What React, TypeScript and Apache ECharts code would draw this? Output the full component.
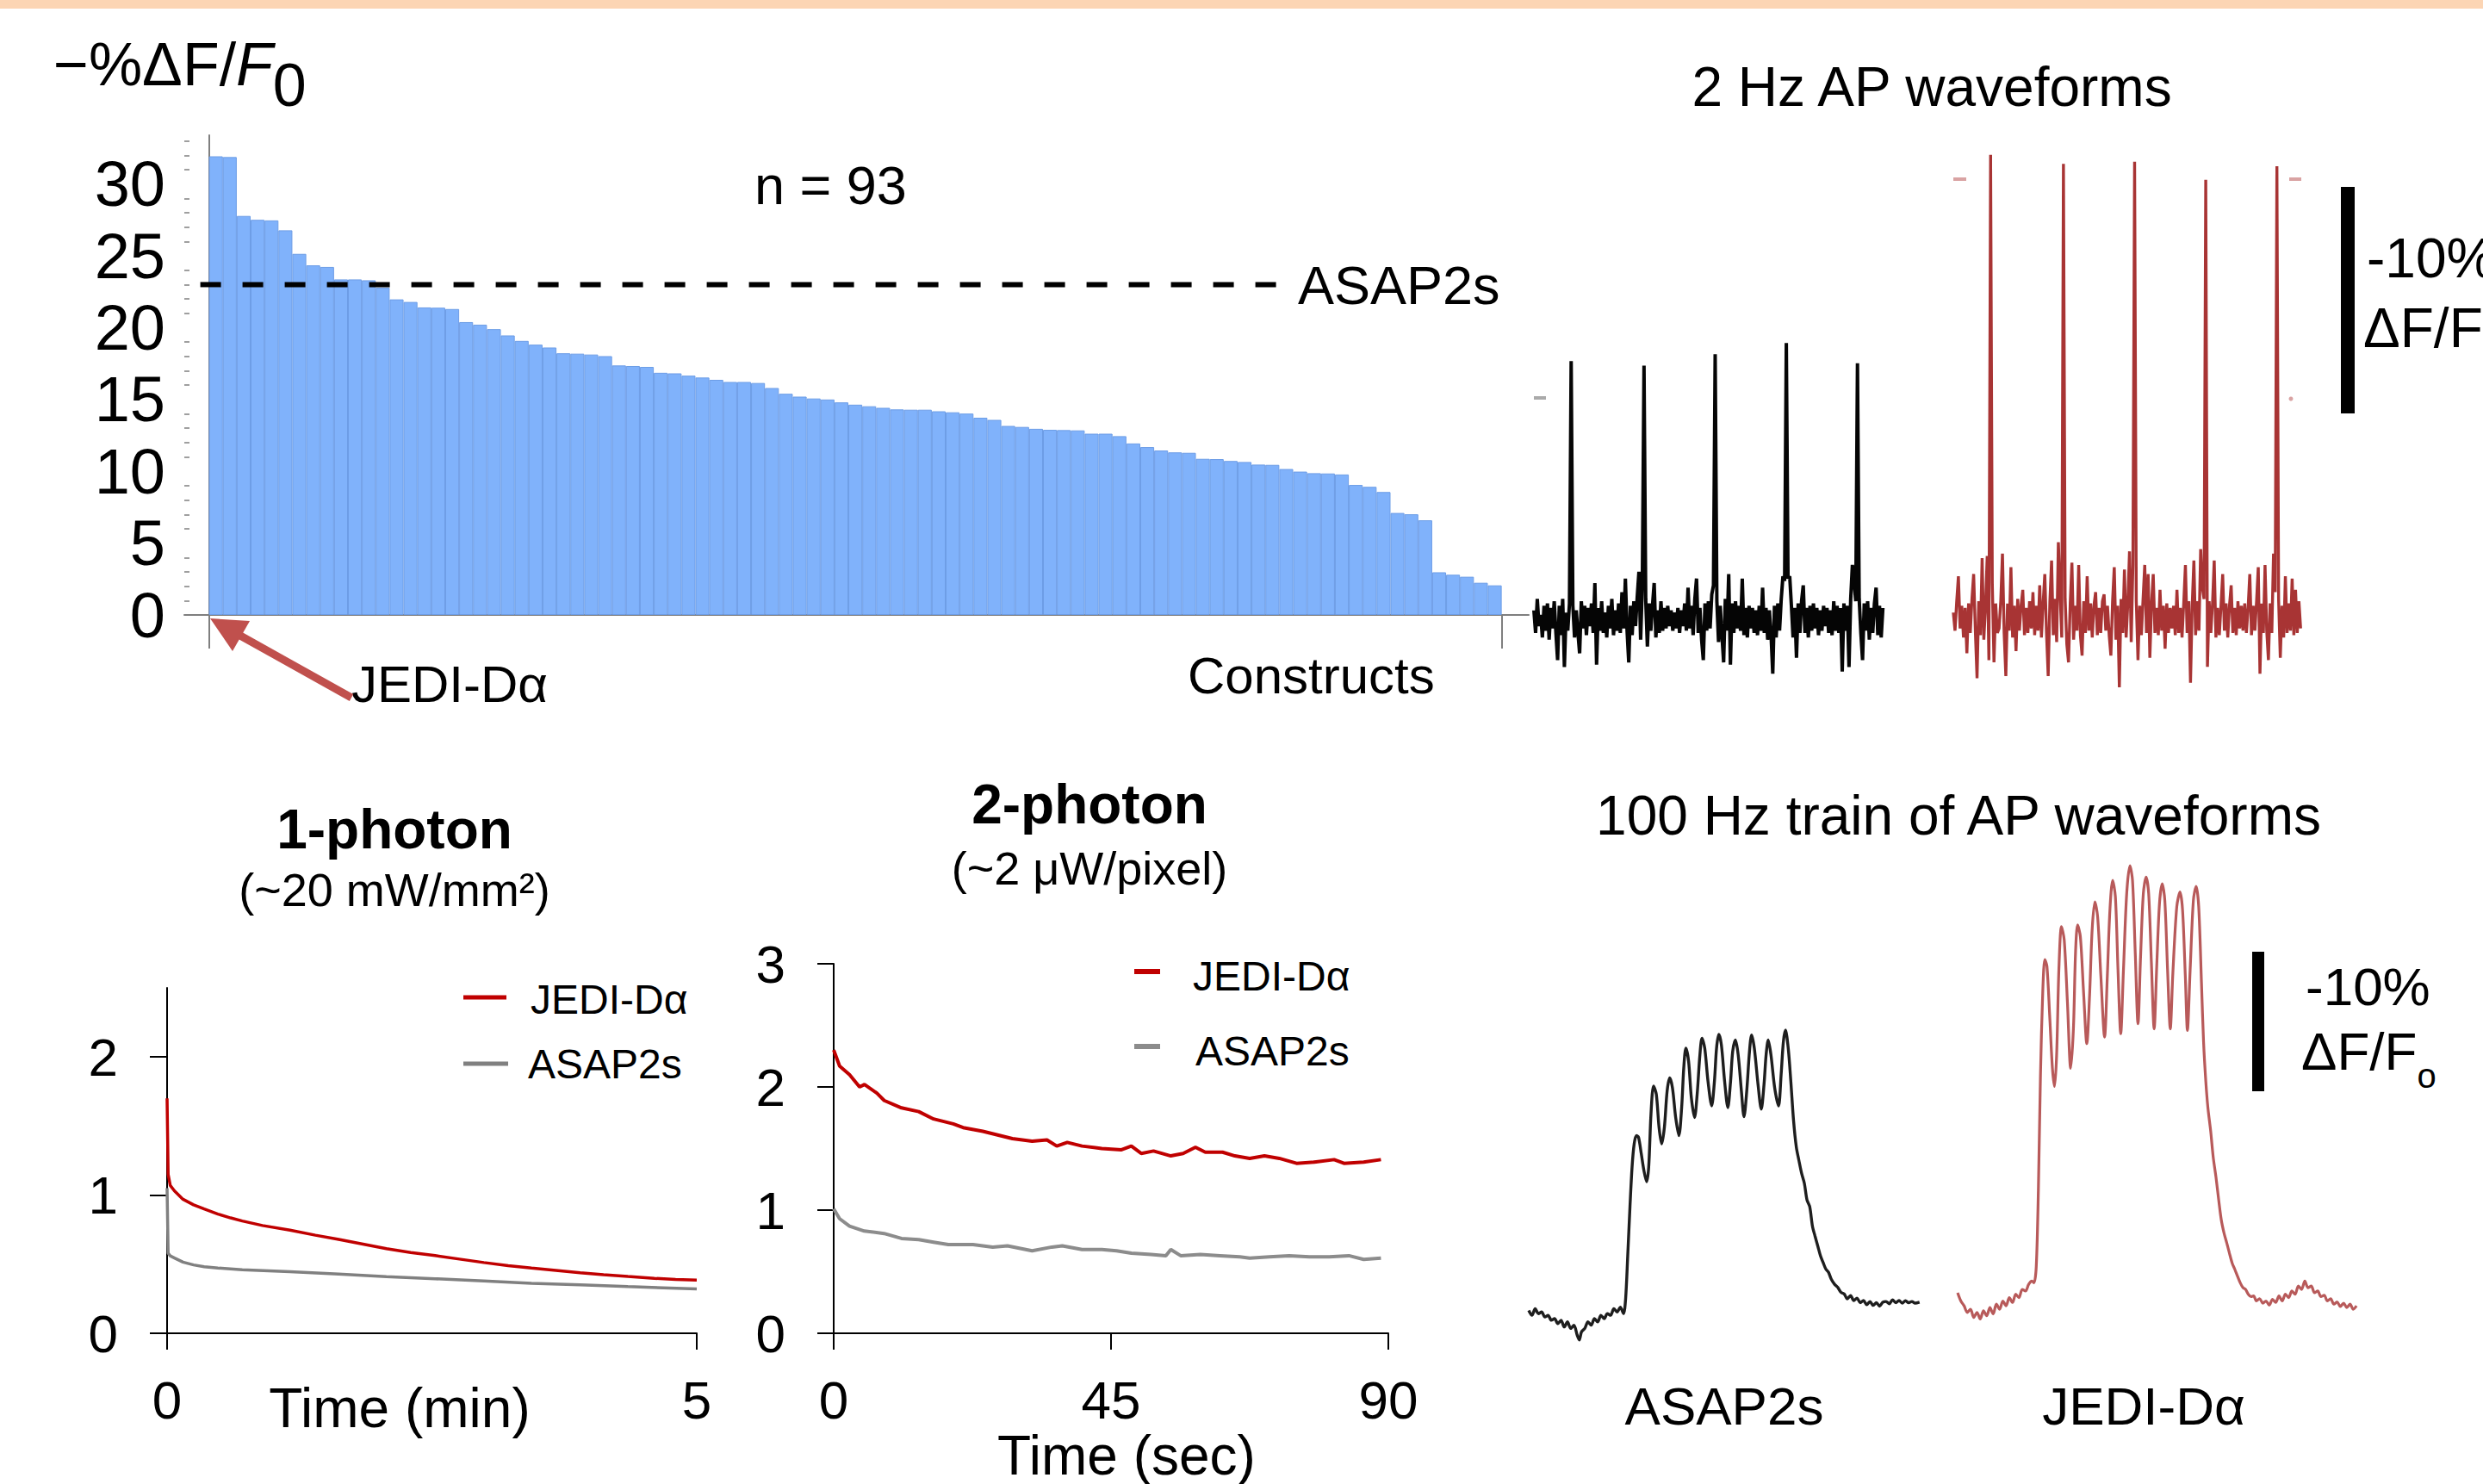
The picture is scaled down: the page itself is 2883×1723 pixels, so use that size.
import React, { useEffect, useRef } from 'react';
import * as echarts from 'echarts';

const W = 2883;
const H = 1723;
const FONT = '"Liberation Sans", Arial, Helvetica, sans-serif';

// ---------- Panel A: screen of constructs (−%ΔF/F0) ----------
const constructValues = [
  31.93, 31.88, 27.78, 27.51, 27.47, 26.78, 25.14, 24.34, 24.23, 23.36, 23.36, 23.30, 22.79, 21.97, 21.79, 21.41,
  21.39, 21.30, 20.39, 20.21, 19.90, 19.46, 19.08, 18.82, 18.62, 18.22, 18.19, 18.13, 18.02, 17.37, 17.33, 17.27,
  16.86, 16.82, 16.66, 16.53, 16.37, 16.22, 16.22, 16.15, 15.80, 15.40, 15.20, 15.07, 15.00, 14.80, 14.64, 14.53,
  14.42, 14.31, 14.29, 14.29, 14.18, 14.11, 14.02, 13.73, 13.58, 13.16, 13.09, 12.96, 12.89, 12.87, 12.85,
  12.62, 12.62, 12.45, 11.94, 11.69, 11.45, 11.32, 11.29, 10.87, 10.85, 10.72, 10.65, 10.47, 10.45, 10.16, 9.98,
  9.87, 9.85, 9.78, 9.05, 8.92, 8.56, 7.10, 7.01, 6.59, 2.97, 2.80, 2.66, 2.24, 2.06,
];
const asap2sLevel = 23.0;
const asap2sLineExtent = [-0.62, 77.2];
const barYTicks = [0, 5, 10, 15, 20, 25, 30];
const barYMinorTicks = [1, 2, 3, 4, 6, 7, 8, 9, 11, 12, 13, 14, 16, 17, 18, 19, 21, 22, 23, 24, 26, 27, 28, 29, 31, 32, 33];
const barXTicks = [0, 93];

// ---------- 2 Hz AP waveforms (−%ΔF/F, sampled every 12 ms) ----------
const DT_2HZ = 12;
const asap2sAt2Hz = [
  0.4, -0.6, 0.9, -0.3, 0.2, -0.8, 0.6, -0.5, 0.7, -0.9,
  0.5, -0.4, 0.8, -0.6, -1.8, 0.6, -0.7, 0.9, -2.1, 0.3,
  -0.5, 0.7, 11.4, 0.6, -0.8, 0.4, -0.6, -1.5, 0.8, -0.4,
  0.6, -0.7, 0.5, -0.3, 0.7, -0.6, 1.6, -2.0, 0.5, -0.5,
  0.8, -0.6, 0.3, -0.8, 0.6, -0.4, 0.9, -0.7, 0.4, -0.5,
  0.7, -0.6, 1.2, -0.4, 1.8, -0.5, -1.9, 0.6, -0.7, 0.8,
  -0.3, 1.0, 2.1, -0.9, 1.5, 11.2, 0.9, -1.2, 0.7, -0.5,
  0.6, 1.6, -0.8, 0.4, -0.6, 0.8, -0.5, 0.5, -0.4, 0.6,
  -0.3, 0.4, -0.5, 0.3, -0.4, 0.5, -0.6, 0.4, -0.3, 0.7,
  -0.5, 1.4, -0.4, 0.6, -0.7, 0.9, 1.8, -0.6, 0.5, -0.9,
  -1.8, 0.7, -0.5, 0.8, -0.4, 1.1, 1.5, 11.7, 0.8, -1.0,
  0.6, -0.7, -1.9, 0.9, -0.5, 2.0, -2.0, 0.7, -0.6, 0.8,
  -0.4, 0.6, -0.5, 1.8, -0.7, 0.5, -0.8, 0.6, -0.4, 0.5,
  -0.6, 0.4, -0.7, 0.6, -0.5, 1.4, -0.6, 0.5, -0.9, 0.4,
  -0.7, -2.4, 0.6, -0.8, 0.7, -0.5, 0.9, 1.9, 1.7, 12.2,
  1.8, 1.9, 0.6, -0.8, 0.5, -1.7, 0.7, -0.6, 0.8, 1.5,
  -0.6, 0.5, -0.8, 0.6, -0.5, 0.7, -0.4, 0.5, -0.7, 0.4,
  -0.5, 0.6, -0.3, 0.5, -0.6, 0.4, -0.7, 0.8, -0.5, 0.6,
  -0.6, 0.5, -2.3, 0.7, -0.5, 0.6, -2.1, 0.9, 2.4, 1.6,
  0.8, 11.3, 0.9, -0.6, -1.8, 0.7, -0.5, 0.8, -0.9, 0.5,
  -0.6, 0.7, 1.4, -0.7, 0.6, -0.8, 0.5,
];
const jediAt2Hz = [
  0.3, -0.5, 0.8, 1.9, -0.4, 0.6, -0.8, 0.5, -1.5, 0.7,
  -0.6, 0.9, 2.0, -0.5, -2.6, 0.8, -0.7, 2.7, -0.9, 0.6,
  2.8, -1.8, 20.5, 1.6, -1.9, 0.7, -0.6, -0.4, 0.8, 2.9,
  -0.6, -2.5, 0.7, -0.5, 2.3, -0.8, 0.6, -1.4, 0.9, -0.5,
  0.6, 1.3, -0.7, 0.5, -0.6, 0.8, -0.4, 1.2, -0.7, 0.6,
  -0.5, 1.5, -0.8, 0.7, 2.0, -0.6, -2.5, 0.8, 2.6, -0.7,
  0.9, -1.0, 3.4, 1.2, -0.8, 20.1, 0.9, -1.1, -1.9, 0.7,
  2.5, -0.9, 0.6, -0.5, 2.4, -0.7, -1.6, 0.8, -0.6, 1.9,
  -0.5, 0.7, -0.8, 0.6, 1.2, -0.7, 0.5, -0.6, 0.8, 1.1,
  -0.5, 0.6, -0.7, -1.6, 0.8, 2.3, -0.9, 0.6, -3.0, 0.9,
  -0.6, 2.2, -0.8, 0.7, 3.0, -1.0, 2.4, 20.2, 0.8, -1.8,
  0.6, -0.7, 0.9, 2.4, -0.6, 2.0, -1.7, 0.7, 2.0, -0.6,
  0.5, -0.7, 1.3, -0.5, 0.6, -1.3, 0.7, -0.6, 0.5, -0.4,
  0.6, -0.7, 1.3, -0.6, 0.5, -0.8, 0.7, 2.4, -0.6, 0.8,
  -2.8, 0.6, 2.6, -0.7, 0.8, -0.5, 3.1, 1.4, 0.9, 19.4,
  -2.1, 0.8, -0.6, 0.7, 2.6, -0.8, 0.5, -0.7, 0.6, 2.0,
  -0.5, 0.7, -0.8, 0.6, 1.5, -0.6, 0.5, -0.7, 0.8, -0.4,
  0.6, -0.5, 0.7, -0.6, 0.5, 2.0, -0.7, 0.6, -0.5, 0.8,
  2.3, -2.4, 0.7, -0.6, 2.4, -0.5, -1.8, 0.7, -0.6, 2.9,
  1.2, 20.0, 0.9, -1.7, 0.6, -0.8, 1.9, -0.6, 0.7, -0.5,
  1.8, -0.7, 1.3, -0.6, 0.8, -0.4,
];

// ---------- Photobleaching: 1-photon (min) and 2-photon (sec) ----------
const onePhotonJedi: [number, number][] = [
  [0, 1.7], [0.01, 1.15], [0.03, 1.07], [0.07, 1.03], [0.15, 0.97], [0.25, 0.93], [0.35, 0.9], [0.48, 0.863],
  [0.6, 0.835], [0.71, 0.813], [0.9, 0.78], [1.16, 0.746], [1.4, 0.71], [1.62, 0.679], [1.85, 0.645], [2.07, 0.612],
  [2.3, 0.585], [2.53, 0.562], [2.76, 0.537], [2.99, 0.512], [3.22, 0.49], [3.44, 0.472], [3.67, 0.455], [3.9, 0.438],
  [4.12, 0.424], [4.35, 0.411], [4.6, 0.398], [4.8, 0.39], [5.0, 0.385],
];
const onePhotonAsap: [number, number][] = [
  [0, 1.05], [0.01, 0.58], [0.03, 0.56], [0.07, 0.545], [0.15, 0.515], [0.25, 0.495], [0.35, 0.482], [0.48, 0.472],
  [0.71, 0.46], [1.16, 0.445], [1.62, 0.428], [2.07, 0.41], [2.53, 0.395], [2.99, 0.378], [3.44, 0.361], [3.9, 0.351],
  [4.35, 0.338], [5.0, 0.321],
];
const twoPhotonJedi: [number, number][] = [
  [0, 2.3], [0.96, 2.17], [2.57, 2.1], [4.2, 2.0], [5.0, 2.02], [7.0, 1.95], [8.2, 1.89], [11.0, 1.83], [13.8, 1.8],
  [16.2, 1.74], [19.4, 1.7], [21.0, 1.67], [24.2, 1.64], [26.6, 1.61], [29.0, 1.58], [32.2, 1.56], [34.6, 1.57],
  [36.2, 1.52], [37.9, 1.55], [40.3, 1.52], [43.5, 1.5], [46.7, 1.49], [48.3, 1.52], [49.9, 1.46], [51.9, 1.48],
  [54.7, 1.44], [56.7, 1.46], [58.7, 1.51], [60.3, 1.47], [63.1, 1.47], [65.1, 1.44], [67.5, 1.42], [69.9, 1.44],
  [72.3, 1.42], [75.1, 1.38], [78.0, 1.39], [81.2, 1.41], [82.8, 1.38], [86.0, 1.39], [88.8, 1.41],
];
const twoPhotonAsap: [number, number][] = [
  [0, 1.01], [0.96, 0.93], [2.57, 0.87], [4.97, 0.83], [8.18, 0.81], [11.0, 0.77], [13.8, 0.76], [16.2, 0.74],
  [18.6, 0.72], [22.6, 0.72], [25.8, 0.7], [28.2, 0.71], [32.2, 0.67], [35.4, 0.7], [37.1, 0.71], [40.3, 0.68],
  [43.5, 0.68], [45.9, 0.67], [48.3, 0.65], [51.5, 0.64], [53.9, 0.63], [54.7, 0.68], [56.3, 0.63], [59.5, 0.64],
  [62.7, 0.63], [65.9, 0.62], [67.5, 0.61], [70.7, 0.62], [73.9, 0.63], [77.2, 0.62], [80.4, 0.62], [83.6, 0.63],
  [86.0, 0.6], [88.8, 0.61],
];
const onePhotonYTicks = [0, 1, 2];
const onePhotonXTicks = [0, 5];
const twoPhotonYTicks = [0, 1, 2, 3];
const twoPhotonXTicks = [0, 45, 90];

// ---------- 100 Hz train of AP waveforms ([ms, −%ΔF/F]) ----------
const asap2sAt100Hz: [number, number][] = [
  [0, 0.35], [2, 0], [4, 0.47], [6, 0.12], [8, 0.24], [10, -0.12], [12, 0], [14, -0.35], [16, -0.24], [18, -0.59],
  [20, -0.35], [22, -0.83], [24, -0.47], [26, -0.94], [28, -0.71], [30, -1.42], [31.3, -1.77], [32.7, -1.18],
  [34.7, -0.94], [36.7, -0.47], [38.7, -0.71], [40.7, -0.24], [42.7, -0.47], [44.7, 0], [46.7, -0.24], [48.7, 0.12],
  [50.7, 0], [52.7, 0.47], [54.7, 0.24], [56.7, 0.59], [58.7, 0.12], [60, 1.18], [61.3, 4.25], [62.7, 7.79],
  [64, 10.63], [65.3, 12.28], [66.7, 12.87], [68, 12.75], [69.7, 11.57], [71.3, 10.39], [73, 9.57], [74.3, 10.63],
  [75.7, 14.41], [77.3, 16.42], [79, 15.83], [80.7, 13.46], [82.3, 12.28], [84, 13.46], [85.7, 16.06], [87.3, 17.01],
  [89, 16.3], [91, 14.17], [93, 12.87], [94.7, 14.88], [96, 17.72], [97.3, 19.13], [99, 18.19], [100.7, 15.59],
  [102.7, 14.17], [104.3, 15.83], [106, 18.66], [107.3, 19.84], [109, 19.13], [111, 16.77], [113.3, 15.0],
  [115, 16.77], [116.3, 19.13], [117.7, 20.12], [119.3, 19.37], [121.3, 16.77], [123.3, 14.88], [125, 16.77],
  [126.3, 18.9], [128, 19.72], [129.7, 18.66], [131.7, 16.06], [133.3, 14.22], [135, 16.06], [136.7, 18.9],
  [138, 20.08], [139.7, 19.13], [142, 16.53], [144, 14.76], [145.7, 16.53], [147, 18.66], [148.3, 19.72], [150, 18.66],
  [152.3, 16.3], [154.7, 15.0], [156.3, 17.24], [157.7, 19.6], [159, 20.43], [160.7, 19.13], [162.3, 16.77],
  [164, 13.94], [165.7, 12.05], [167.3, 11.1], [169, 10.16], [170.7, 9.45], [172.3, 8.27], [174, 7.79], [175.7, 6.38],
  [177.3, 5.67], [179, 4.96], [180.7, 4.25], [182.3, 3.78], [184, 3.31], [185.7, 3.07], [187.3, 2.6], [189.3, 2.24],
  [191.3, 2.01], [193.3, 1.65], [195.3, 1.54], [197.3, 1.18], [199.3, 1.42], [201.3, 1.06], [203.3, 1.23],
  [205.3, 0.9], [207.3, 1.06], [209.3, 0.76], [211.3, 0.99], [213.3, 0.71], [215.3, 0.9], [217.3, 0.66],
  [219.3, 0.94], [221.3, 0.99], [223.3, 0.83], [225.3, 1.11], [227.3, 0.9], [229.3, 1.06], [231.3, 0.87],
  [233.3, 1.04], [235.3, 0.9], [237.3, 0.99], [239.3, 0.87], [242, 0.94],
];
const jediAt100Hz: [number, number][] = [
  [0, 0.94], [2, 0.35], [4, 0], [6, -0.47], [8, -0.24], [10, -0.83], [12, -0.47], [14, -0.94], [16, -0.35],
  [18, -0.71], [20, -0.12], [22, -0.59], [24, 0.12], [26, -0.24], [28, 0.35], [30, 0], [32, 0.59], [34, 0.24],
  [36, 0.83], [38, 0.59], [40, 1.18], [42, 1.06], [44, 1.54], [46, 1.77], [47.3, 1.65], [48.7, 2.83], [50, 8.27],
  [51.3, 16.53], [52.7, 22.44], [54, 24.8], [55.3, 24.33], [57, 20.79], [58.7, 17.01], [60, 15.71], [61.3, 17.95],
  [62.7, 24.09], [64.3, 27.16], [66, 26.22], [68, 21.73], [70, 17.01], [71.7, 19.84], [73, 25.27], [74.3, 27.28],
  [76, 26.45], [78, 22.44], [80, 18.78], [81.7, 22.2], [83.3, 26.93], [85, 28.93], [86.7, 27.87], [88.7, 23.62],
  [91, 19.25], [92.7, 23.62], [94.3, 28.34], [96, 30.47], [97.7, 29.29], [99.3, 24.09], [101, 19.49], [102.7, 24.09],
  [104.7, 29.53], [106.7, 31.53], [108.3, 30.47], [110, 25.27], [111.7, 20.2], [113.3, 25.04], [115, 29.53],
  [116.7, 30.71], [118.3, 29.53], [120, 24.56], [121.7, 19.84], [123.3, 24.33], [125, 28.82], [126.7, 30.23],
  [128.3, 29.05], [130, 24.09], [131.7, 19.84], [133.3, 23.86], [135.7, 28.58], [137.7, 29.64], [139.3, 28.34],
  [141, 23.62], [142.3, 19.72], [144, 24.09], [146, 29.05], [147.7, 30.05], [149.3, 28.58], [151, 23.15],
  [152.3, 18.9], [153.7, 16.06], [155, 14.17], [156.7, 12.52], [158.3, 10.63], [160, 9.21], [161.7, 7.56],
  [163.3, 6.14], [165, 5.2], [166.7, 4.49], [168.3, 3.78], [170, 3.07], [171.7, 2.6], [173.3, 2.13], [175, 1.65],
  [176.7, 1.3], [178.3, 1.18], [180, 0.83], [181.7, 0.66], [183.3, 0.71], [185, 0.35], [187, 0.52], [189, 0.19],
  [191, 0.35], [193, 0.05], [195, 0.47], [197, 0.24], [199, 0.71], [201, 0.35], [203, 0.83], [205, 0.59],
  [207, 1.06], [209, 0.83], [211, 1.42], [213, 1.18], [215, 1.77], [217, 1.3], [219, 1.42], [221, 0.94],
  [223, 1.06], [225, 0.66], [227, 0.76], [229, 0.35], [231, 0.52], [233, 0.12], [235, 0.28], [237, -0.05],
  [239, 0.19], [241, -0.12], [243, 0.12], [245, -0.24], [247, 0],
];

// ---------- colours ----------
const RED = '#c00000';
const GRAY = '#808080';
const BAR_BLUE = '#80b2fb';
const ARROW_RED = '#c0504d';
const TRACE_RED = '#a83434';
const TRACE_RED_100 = '#b85a5a';

// ---------- layout ----------
const BAR_X0 = 242.6;
const BAR_W = 16.14;
const BAR_GRID = { left: 214, top: 157, width: 1561, height: 557 };

function txt(text: string, x: number, y: number, size: number, align = 'left', bold = false): any {
  return {
    type: 'text',
    x,
    y,
    silent: true,
    style: {
      text,
      fill: '#000',
      fontSize: size,
      fontFamily: FONT,
      fontWeight: bold ? 'bold' : 'normal',
      align,
      verticalAlign: 'middle',
      textAlign: align,
      textVerticalAlign: 'middle',
    },
  };
}

function subText(main: string, sub: string, x: number, yTop: number, size: number, subSize: number, subDrop: number): any {
  return {
    type: 'text', x, y: yTop, silent: true,
    style: {
      text: `{a|${main}}{s|${sub}}`, fill: '#000', fontFamily: FONT, fontSize: size,
      align: 'left', verticalAlign: 'top', textAlign: 'left', textVerticalAlign: 'top',
      rich: {
        a: { fontSize: size, fontFamily: FONT, lineHeight: size, verticalAlign: 'top', fill: '#000' },
        s: { fontSize: subSize, fontFamily: FONT, lineHeight: subSize, padding: [subDrop, 0, 0, 0], verticalAlign: 'top', fill: '#000' },
      },
    },
  };
}

function hLine(x1: number, x2: number, y: number, color: string, w: number): any {
  return { type: 'line', silent: true, shape: { x1, y1: y, x2, y2: y }, style: { stroke: color, lineWidth: w } };
}

function buildOption(): any {
  const axisFont = { fontFamily: FONT, color: '#000' };
  const lineBase = { type: 'line', showSymbol: false, symbol: 'none', silent: true, animation: false };
  const hiddenX = (gridIndex: number, max: number) => ({ type: 'value', gridIndex, min: 0, max, show: false });
  const hiddenY = (gridIndex: number, min: number, max: number) => ({ type: 'value', gridIndex, min, max, show: false });
  const blackAxis = { lineStyle: { color: '#000', width: 2 } };

  return {
    animation: false,
    backgroundColor: '#ffffff',
    grid: [
      { ...BAR_GRID },
      { left: 1781, top: 166.7, width: (asap2sAt2Hz.length - 1) * DT_2HZ * 0.16392, height: 631.3 },
      { left: 2268, top: 166.7, width: (jediAt2Hz.length - 1) * DT_2HZ * 0.16392, height: 631.3 },
      { left: 194, top: 1147, width: 615, height: 401 },
      { left: 968, top: 1119, width: 644, height: 429 },
      { left: 1775, top: 976, width: 453.75, height: 616 },
      { left: 2273, top: 965, width: 463.1, height: 616 },
    ],
    xAxis: [
      {
        type: 'value', gridIndex: 0,
        min: -(BAR_X0 - BAR_GRID.left) / BAR_W,
        max: (BAR_GRID.left + BAR_GRID.width - BAR_X0) / BAR_W,
        axisLine: { show: true, lineStyle: { color: '#7f7f7f', width: 2 } },
        axisTick: { show: true, customValues: barXTicks, length: 39, lineStyle: { color: '#7f7f7f', width: 2 } },
        axisLabel: { show: false },
        splitLine: { show: false },
      },
      hiddenX(1, (asap2sAt2Hz.length - 1) * DT_2HZ),
      hiddenX(2, (jediAt2Hz.length - 1) * DT_2HZ),
      {
        type: 'value', gridIndex: 3, min: 0, max: 5,
        axisLine: { show: true, onZero: false, ...blackAxis },
        axisTick: { show: true, customValues: onePhotonXTicks, length: 19, ...blackAxis },
        axisLabel: { customValues: onePhotonXTicks, fontSize: 62, margin: 46, ...axisFont },
        splitLine: { show: false },
      },
      {
        type: 'value', gridIndex: 4, min: 0, max: 90,
        axisLine: { show: true, onZero: false, ...blackAxis },
        axisTick: { show: true, customValues: twoPhotonXTicks, length: 19, ...blackAxis },
        axisLabel: { customValues: twoPhotonXTicks, fontSize: 62, margin: 46, ...axisFont },
        splitLine: { show: false },
      },
      hiddenX(5, 242),
      hiddenX(6, 247),
    ],
    yAxis: [
      {
        type: 'value', gridIndex: 0, min: 0, max: 33.4, position: 'left',
        axisLine: { show: true, lineStyle: { color: '#7f7f7f', width: 2 } },
        axisTick: { show: true, inside: true, customValues: barYTicks, length: 10, lineStyle: { color: '#7f7f7f', width: 2 } },
        axisLabel: { customValues: barYTicks, fontSize: 74, margin: 22, ...axisFont },
        splitLine: { show: false },
      },
      {
        type: 'value', gridIndex: 0, min: 0, max: 33.4, position: 'left', offset: 0,
        axisLine: { show: false },
        axisTick: { show: true, inside: true, customValues: barYMinorTicks, length: 6, lineStyle: { color: '#7f7f7f', width: 1.5 } },
        axisLabel: { show: false },
        splitLine: { show: false },
      },
      hiddenY(1, -3, 21),
      hiddenY(2, -3, 21),
      {
        type: 'value', gridIndex: 3, min: 0, max: 2.5,
        axisLine: { show: true, ...blackAxis },
        axisTick: { show: true, customValues: onePhotonYTicks, length: 20, ...blackAxis },
        axisLabel: { customValues: onePhotonYTicks, fontSize: 62, margin: 57, ...axisFont },
        splitLine: { show: false },
      },
      {
        type: 'value', gridIndex: 4, min: 0, max: 3,
        axisLine: { show: true, ...blackAxis },
        axisTick: { show: true, customValues: twoPhotonYTicks, length: 19, ...blackAxis },
        axisLabel: { customValues: twoPhotonYTicks, fontSize: 62, margin: 56, ...axisFont },
        splitLine: { show: false },
      },
      hiddenY(5, -4, 34),
      hiddenY(6, -4, 34),
    ],
    series: [
      {
        type: 'bar', xAxisIndex: 0, yAxisIndex: 0, silent: true,
        data: constructValues.map((v, i) => [i + 0.5, v]),
        barWidth: BAR_W,
        itemStyle: { color: BAR_BLUE, borderColor: '#6d9de6', borderWidth: 1 },
      },
      {
        ...lineBase, xAxisIndex: 0, yAxisIndex: 0, z: 5,
        data: asap2sLineExtent.map((x) => [x, asap2sLevel]),
        lineStyle: { color: '#000', width: 6, type: [24, 25], cap: 'butt' },
      },
      {
        ...lineBase, xAxisIndex: 1, yAxisIndex: 2,
        data: asap2sAt2Hz.map((v, i) => [i * DT_2HZ, v]),
        lineStyle: { color: '#050505', width: 4 },
      },
      {
        ...lineBase, xAxisIndex: 2, yAxisIndex: 3,
        data: jediAt2Hz.map((v, i) => [i * DT_2HZ, v]),
        lineStyle: { color: TRACE_RED, width: 3.4 },
      },
      { ...lineBase, xAxisIndex: 3, yAxisIndex: 4, data: onePhotonAsap, lineStyle: { color: GRAY, width: 3.5 } },
      { ...lineBase, xAxisIndex: 3, yAxisIndex: 4, data: onePhotonJedi, lineStyle: { color: RED, width: 3.5 } },
      { ...lineBase, xAxisIndex: 4, yAxisIndex: 5, data: twoPhotonAsap, lineStyle: { color: '#8c8c8c', width: 4 } },
      { ...lineBase, xAxisIndex: 4, yAxisIndex: 5, data: twoPhotonJedi, lineStyle: { color: RED, width: 4 } },
      { ...lineBase, xAxisIndex: 5, yAxisIndex: 6, data: asap2sAt100Hz, smooth: 0.3, lineStyle: { color: '#1e1e1e', width: 3.4 } },
      { ...lineBase, xAxisIndex: 6, yAxisIndex: 7, data: jediAt100Hz, smooth: 0.3, lineStyle: { color: TRACE_RED_100, width: 3.2 } },
    ],
    graphic: {
      elements: [
        { type: 'rect', silent: true, shape: { x: 0, y: 0, width: W, height: 10 }, style: { fill: '#fcd5b4' } },
        // Panel A texts
        {
          type: 'text', x: 62, y: 40, silent: true,
          style: {
            text: '{a|−%ΔF/}{i|F}{s|0}',
            fill: '#000', fontFamily: FONT, fontSize: 70, align: 'left', verticalAlign: 'top', textAlign: 'left', textVerticalAlign: 'top',
            rich: {
              a: { fontSize: 70, fontFamily: FONT, lineHeight: 70, verticalAlign: 'top', fill: '#000' },
              i: { fontSize: 70, fontFamily: FONT, fontStyle: 'italic', lineHeight: 70, verticalAlign: 'top', fill: '#000' },
              s: { fontSize: 70, fontFamily: FONT, lineHeight: 70, padding: [24, 0, 0, 0], verticalAlign: 'top', fill: '#000' },
            },
          },
        },
        txt(`n = ${constructValues.length}`, 876, 215, 63),
        txt('ASAP2s', 1507, 331, 63),
        txt('JEDI-Dα', 408, 794, 60),
        txt('Constructs', 1379, 784, 60),
        { type: 'line', silent: true, shape: { x1: 408, y1: 810, x2: 279, y2: 738 }, style: { stroke: ARROW_RED, lineWidth: 9 } },
        { type: 'polygon', silent: true, shape: { points: [[244, 718], [290, 721], [270, 756]] }, style: { fill: ARROW_RED } },
        // 2 Hz
        txt('2 Hz AP waveforms', 2243, 101, 64, 'center'),
        hLine(1781, 1795, 462, '#aaaaaa', 4),
        hLine(2268, 2283, 208, '#d9a3a3', 4),
        hLine(2658, 2672, 208, '#d9a3a3', 4),
        { type: 'circle', silent: true, shape: { cx: 2660, cy: 463, r: 2.5 }, style: { fill: '#d9a3a3' } },
        { type: 'rect', silent: true, shape: { x: 2718, y: 217, width: 16, height: 263 }, style: { fill: '#000' } },
        txt('-10%', 2748, 300, 64),
        subText('ΔF/F', 'o', 2744, 349, 64, 42, 40),
        // 1-photon / 2-photon
        txt('1-photon', 458, 963, 64, 'center', true),
        txt('(~20 mW/mm²)', 458, 1033, 54, 'center'),
        txt('2-photon', 1265, 934, 64, 'center', true),
        txt('(~2 μW/pixel)', 1265, 1008, 54, 'center'),
        txt('Time (min)', 464, 1635, 64, 'center'),
        txt('Time (sec)', 1308, 1690, 64, 'center'),
        hLine(538, 588, 1158, RED, 5),
        txt('JEDI-Dα', 616, 1160, 48),
        hLine(538, 590, 1235, GRAY, 5),
        txt('ASAP2s', 613, 1235, 48),
        hLine(1317, 1347, 1128, RED, 6),
        txt('JEDI-Dα', 1385, 1133, 48),
        hLine(1317, 1347, 1215, '#8c8c8c', 6),
        txt('ASAP2s', 1388, 1220, 48),
        // 100 Hz
        txt('100 Hz train of AP waveforms', 2274, 947, 64, 'center'),
        { type: 'rect', silent: true, shape: { x: 2615, y: 1105, width: 14, height: 162 }, style: { fill: '#000' } },
        txt('-10%', 2677, 1145, 62),
        subText('ΔF/F', 'o', 2672, 1189, 62, 40, 40),
        txt('ASAP2s', 2002, 1632, 62, 'center'),
        txt('JEDI-Dα', 2489, 1632, 62, 'center'),
      ],
    },
  };
}

export default function App() {
  const ref = useRef<HTMLDivElement>(null);
  useEffect(() => {
    if (!ref.current) return;
    const chart = echarts.init(ref.current, undefined, { renderer: 'svg', width: W, height: H });
    chart.setOption(buildOption());
    return () => chart.dispose();
  }, []);
  return (
    <div
      ref={ref}
      style={{ position: 'fixed', left: 0, top: 0, width: W, height: H, background: '#fff', overflow: 'hidden' }}
    />
  );
}
